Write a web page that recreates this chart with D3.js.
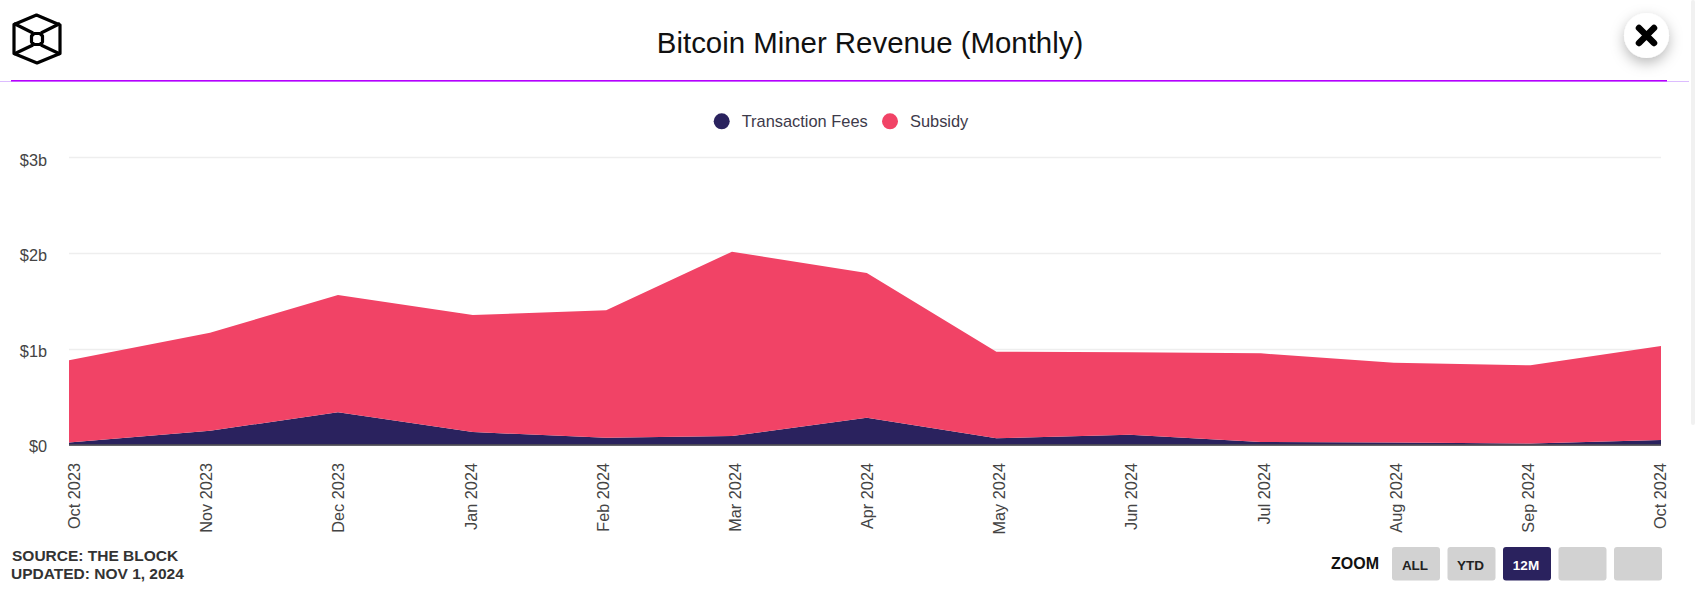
<!DOCTYPE html>
<html><head><meta charset="utf-8">
<script src="https://cdnjs.cloudflare.com/ajax/libs/d3/7.8.5/d3.min.js"></script>
<style>html,body{margin:0;padding:0;background:#fff;overflow:hidden}svg{display:block}text{font-family:"Liberation Sans",Arial,sans-serif}</style>
</head><body><svg id="c" width="1695" height="608"></svg>
<script>
const pointTimes=["2023-10-01T00:00","2023-11-02T10:00","2023-12-01T20:00","2024-01-01T20:00","2024-02-01T12:00","2024-03-01T10:00","2024-04-01T10:00","2024-05-01T05:00","2024-05-31T19:00","2024-07-01T00:00","2024-07-31T14:00","2024-09-01T00:00","2024-10-01T00:00"];
const tickLabels=["Oct 2023","Nov 2023","Dec 2023","Jan 2024","Feb 2024","Mar 2024","Apr 2024","May 2024","Jun 2024","Jul 2024","Aug 2024","Sep 2024","Oct 2024"];
const fees=[0.03,0.154,0.346,0.14,0.081,0.099,0.29,0.075,0.1125,0.036,0.03,0.02,0.057];
const subsidy=[0.857,1.021,1.222,1.219,1.327,1.92,1.507,0.902,0.8585,0.924,0.8325,0.815,0.979];
const yTicks=[0,1,2,3];
const seriesNames=["Transaction Fees","Subsidy"];
const seriesColors=["#2a225e","#f14366"];
const zoomButtons=["ALL","YTD","12M","",""];

const svg=d3.select("#c");
const dates=pointTimes.map(d=>new Date(d+"Z"));
const x=d3.scaleUtc().domain(d3.extent(dates)).range([69,1661]);
const y=d3.scaleLinear().domain([0,3]).range([445.5,157.5]);
const yLabel=d3.scaleLinear().domain([0,3]).range([452,165.5]);
const xLabel=d3.scalePoint().domain(tickLabels).range([80,1666]);
const table=dates.map((d,i)=>({date:d,fees:fees[i],subsidy:subsidy[i]}));

// scrollbar
svg.append("rect").attr("x",1691).attr("y",0).attr("width",4).attr("height",425).attr("rx",2).attr("fill","#f1f1f1");

// header
const f=svg.append("defs").append("filter").attr("id","sh").attr("x","-60%").attr("y","-60%").attr("width","220%").attr("height","220%");
f.append("feDropShadow").attr("dx",0).attr("dy",5).attr("stdDeviation",7).attr("flood-color","#000").attr("flood-opacity",0.28);
svg.append("rect").attr("x",0).attr("y",81).attr("width",1689).attr("height",1).attr("fill","#dcbcff");
svg.append("rect").attr("x",11).attr("y",80).attr("width",1656).attr("height",1.5).attr("fill","#b700ff");
svg.append("text").attr("x",870).attr("y",53).attr("text-anchor","middle").attr("font-size",29.4).attr("fill","#111").text("Bitcoin Miner Revenue (Monthly)");

// logo
const logo=svg.append("g").attr("fill","none").attr("stroke","#000").attr("stroke-width",3.2).attr("stroke-linejoin","round");
logo.append("path").attr("d","M36.5 15L60 25L60 53.5L37 63L14 53.5L14 24.5Z");
logo.append("path").attr("d","M34 33.5H40L42.5 36V42L40 44.5H34L31.5 42V36Z");
logo.append("path").attr("d","M14 23.5L33 33M60 23.5L41 33M14 54L33 45M60 54L41 45");

// close button
svg.append("circle").attr("cx",1646.5).attr("cy",35.5).attr("r",22.5).attr("fill","#fff").attr("filter","url(#sh)");
svg.append("path").attr("d","M1639 28L1654 43M1654 28L1639 43").attr("stroke","#000").attr("stroke-width",6.5).attr("stroke-linecap","round");

// legend
const legendX=[721.7,890];
seriesNames.forEach((n,i)=>{
  svg.append("circle").attr("cx",legendX[i]).attr("cy",121.3).attr("r",8).attr("fill",seriesColors[i]);
  svg.append("text").attr("x",legendX[i]+20).attr("y",127).attr("font-size",16.4).attr("fill","#3d3a4a").text(n);
});

// gridlines
svg.append("g").selectAll("line").data(yTicks.slice(1)).join("line")
  .attr("x1",69).attr("x2",1661).attr("y1",d=>y(d)).attr("y2",d=>y(d))
  .attr("stroke","#eeeeee").attr("stroke-width",1.5);

// y labels
svg.append("g").selectAll("text").data(yTicks).join("text")
  .attr("x",47).attr("y",d=>yLabel(d)).attr("text-anchor","end").attr("font-size",16.3).attr("fill","#444")
  .text(d=>d===0?"$0":"$"+d+"b");

// stacked areas
const stack=d3.stack().keys(["fees","subsidy"])(table);
const area=d3.area().x(d=>x(d.data.date)).y0(d=>y(d[0])).y1(d=>y(d[1]));
svg.append("g").selectAll("path").data(stack).join("path").attr("d",area).attr("fill",(d,i)=>seriesColors[i]);

// axis line
svg.append("line").attr("x1",69).attr("x2",1661).attr("y1",445).attr("y2",445).attr("stroke","#555").attr("stroke-width",1.5);

// x labels
svg.append("g").selectAll("text").data(tickLabels).join("text")
  .attr("text-anchor","end").attr("font-size",16.3).attr("fill","#444")
  .attr("transform",d=>`translate(${xLabel(d)},463) rotate(-90)`)
  .text(d=>d);

// footer
svg.append("text").attr("x",12).attr("y",560.5).attr("font-size",15.5).attr("font-weight","bold").attr("fill","#333").text("SOURCE: THE BLOCK");
svg.append("text").attr("x",11).attr("y",578.5).attr("font-size",15.5).attr("font-weight","bold").attr("fill","#333").text("UPDATED: NOV 1, 2024");

// zoom controls
svg.append("text").attr("x",1331).attr("y",569).attr("font-size",16).attr("font-weight","bold").attr("fill","#111").text("ZOOM");
const bx=d3.scalePoint().domain(d3.range(zoomButtons.length)).range([1392,1614]);
const btn=svg.append("g").selectAll("g").data(zoomButtons).join("g").attr("transform",(d,i)=>`translate(${bx(i)},547)`);
btn.append("rect").attr("width",48).attr("height",33.5).attr("rx",3).attr("fill",d=>d==="12M"?"#2a225e":"#d2d2d2");
btn.append("text").attr("x",23).attr("y",23).attr("text-anchor","middle").attr("font-size",13.5).attr("font-weight","bold").attr("fill",d=>d==="12M"?"#fff":"#222").text(d=>d);
</script></body></html>
